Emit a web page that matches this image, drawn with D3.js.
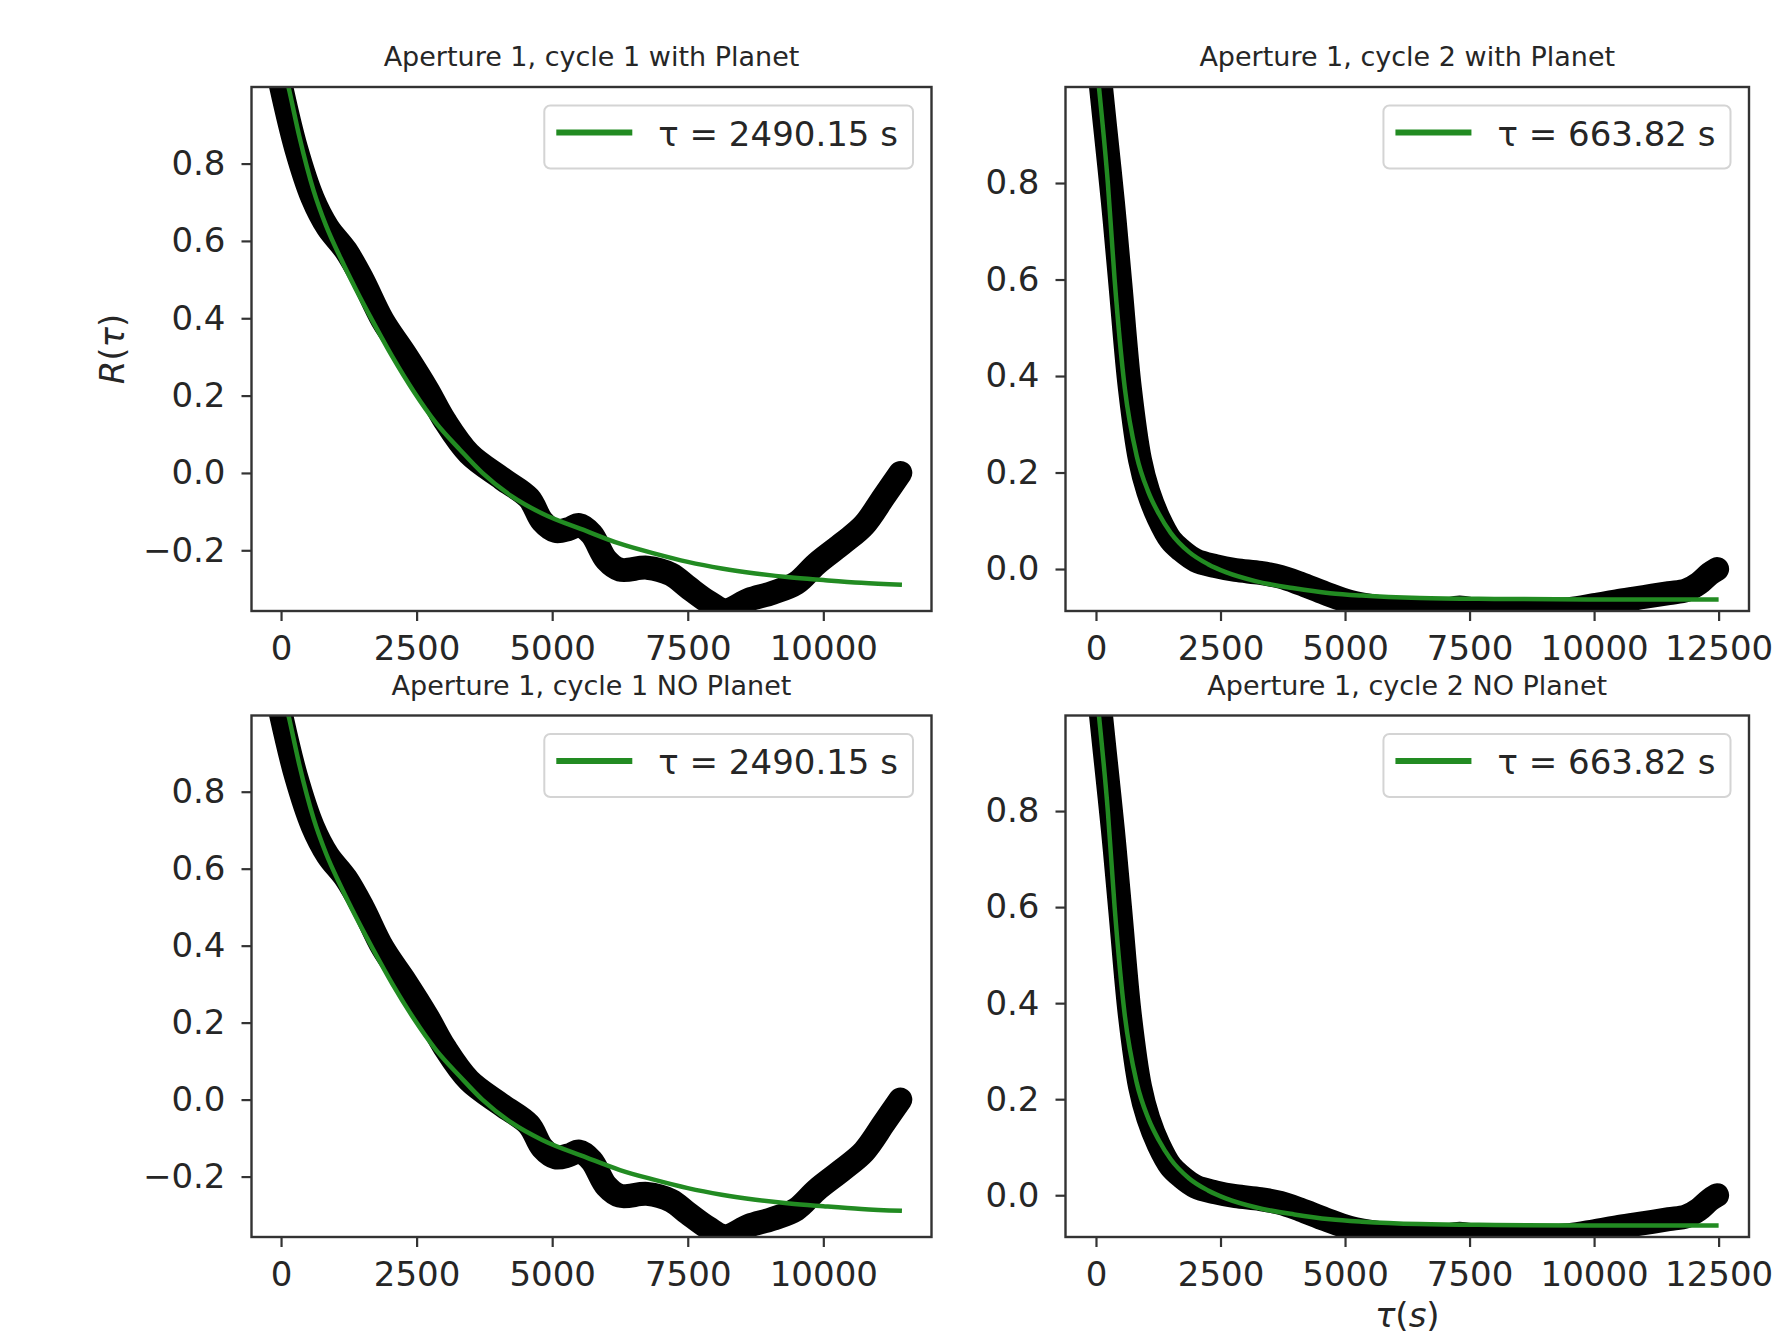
<!DOCTYPE html>
<html>
<head>
<meta charset="utf-8">
<script src="https://cdn.jsdelivr.net/npm/d3@7"></script>
<style>
  html, body { margin: 0; padding: 0; background: #fff; }
  svg { display: block; font-family: 'DejaVu Sans', sans-serif; }
</style>
</head>
<body>
<div id="chart"></div>
<script>
// R(tau) autocorrelation: [lag (s), R]
const cycle1Data = [
  [0, 1.0], [276, 0.84], [583, 0.71], [859, 0.635], [1196, 0.575], [1503, 0.50],
  [1871, 0.395], [2300, 0.305], [2700, 0.215], [3020, 0.135], [3466, 0.05], [4080, -0.015],
  [4571, -0.065], [4816, -0.125], [5061, -0.15], [5300, -0.145], [5500, -0.135], [5725, -0.158],
  [6000, -0.225], [6250, -0.25], [6750, -0.245], [7188, -0.262], [7500, -0.295], [7875, -0.333],
  [8190, -0.355], [8625, -0.328], [9063, -0.31], [9500, -0.285], [9875, -0.235], [10375, -0.18],
  [10750, -0.135], [11125, -0.06], [11420, 0.0]
];
const cycle1Fit = [
  [0, 1.08], [150, 0.99], [337, 0.87], [600, 0.73], [828, 0.64], [1100, 0.555], [1380, 0.475],
  [1700, 0.39], [2055, 0.30], [2450, 0.21], [2853, 0.13], [3300, 0.06], [3712, 0.0], [4250, -0.06],
  [4816, -0.105], [5625, -0.15], [6250, -0.183], [6875, -0.208], [7500, -0.23], [8125, -0.247],
  [8750, -0.26], [9375, -0.27], [10000, -0.277], [10700, -0.284], [11450, -0.289]
];
const cycle2Data = [
  [0, 1.1], [180, 0.92], [340, 0.76], [490, 0.59], [680, 0.375], [884, 0.226], [1050, 0.16],
  [1259, 0.105], [1500, 0.06], [1700, 0.04], [2000, 0.018], [2400, 0.006], [2800, -0.002],
  [3300, -0.008], [3700, -0.016], [4100, -0.03], [4600, -0.05], [5100, -0.068], [5700, -0.079],
  [6300, -0.085], [6900, -0.087], [7300, -0.08], [7700, -0.086], [8300, -0.087], [8900, -0.086],
  [9500, -0.083], [10000, -0.075], [10500, -0.066], [11000, -0.058], [11500, -0.05],
  [11850, -0.044], [12100, -0.03], [12320, -0.01], [12470, 0.0]
];
const cycle2Fit = [
  [0, 1.06], [68, 0.99], [238, 0.80], [374, 0.60], [578, 0.375], [816, 0.235], [1050, 0.16],
  [1259, 0.115], [1500, 0.075], [1871, 0.035], [2250, 0.01], [2619, -0.007], [3200, -0.025],
  [3980, -0.04], [4700, -0.05], [5340, -0.055], [6500, -0.06], [8000, -0.062], [10000, -0.063],
  [12500, -0.063]
];

const panelTitles = [
  'Aperture 1, cycle 1 with Planet', 'Aperture 1, cycle 2 with Planet',
  'Aperture 1, cycle 1 NO Planet', 'Aperture 1, cycle 2 NO Planet'
];
const fitLabels = ['τ = 2490.15 s', 'τ = 663.82 s', 'τ = 2490.15 s', 'τ = 663.82 s'];
const xTicks1 = [0, 2500, 5000, 7500, 10000];
const xTicks2 = [0, 2500, 5000, 7500, 10000, 12500];
const yTicks1 = [-0.2, 0.0, 0.2, 0.4, 0.6, 0.8];
const yTicks2 = [0.0, 0.2, 0.4, 0.6, 0.8];
const xLim1 = [-545, 11995], yLim1 = [-0.357, 0.998];
const xLim2 = [-612, 13110], yLim2 = [-0.087, 0.999];

const W = 1781, H = 1335;
const GREEN = '#228b22';
const INK = '#262626';
const FONT = 34;

const svg = d3.select('#chart').append('svg').attr('width', W).attr('height', H);

// subplot boxes (2x2 grid)
const cols = [{ x0: 251.5, x1: 931.5 }, { x0: 1065.5, x1: 1749 }];
const rows = [{ y0: 87, y1: 611 }, { y0: 715.5, y1: 1237 }];

const cycle1 = { data: cycle1Data, fit: cycle1Fit, xLim: xLim1, yLim: yLim1, xTicks: xTicks1, yTicks: yTicks1 };
const cycle2 = { data: cycle2Data, fit: cycle2Fit, xLim: xLim2, yLim: yLim2, xTicks: xTicks2, yTicks: yTicks2 };
const panels = [
  { row: 0, col: 0, ...cycle1 },
  { row: 0, col: 1, ...cycle2 },
  { row: 1, col: 0, ...cycle1 },
  { row: 1, col: 1, ...cycle2 }
];

panels.forEach((p, i) => {
  const { x0, x1 } = cols[p.col];
  const { y0, y1 } = rows[p.row];
  const x = d3.scaleLinear().domain(p.xLim).range([x0, x1]);
  const y = d3.scaleLinear().domain(p.yLim).range([y1, y0]);
  const g = svg.append('g');

  g.append('clipPath').attr('id', `clip${i}`)
    .append('rect').attr('x', x0).attr('y', y0).attr('width', x1 - x0).attr('height', y1 - y0);
  const plot = g.append('g').attr('clip-path', `url(#clip${i})`);

  // measured R(tau): heavy black trace
  const dataLine = d3.line()
    .x(d => x(d[0])).y(d => y(d[1]))
    .curve(d3.curveCatmullRom.alpha(0.5));
  plot.append('path').datum(p.data)
    .attr('d', dataLine).attr('fill', 'none')
    .attr('stroke', '#000').attr('stroke-width', 24)
    .attr('stroke-linecap', 'round').attr('stroke-linejoin', 'round');

  // exponential fit
  const fitLine = d3.line()
    .x(d => x(d[0])).y(d => y(d[1]))
    .curve(d3.curveMonotoneX);
  plot.append('path').datum(p.fit)
    .attr('d', fitLine).attr('fill', 'none')
    .attr('stroke', GREEN).attr('stroke-width', 4.5);

  // axes
  const xAxis = g.append('g').attr('transform', `translate(0,${y1})`)
    .call(d3.axisBottom(x).tickValues(p.xTicks).tickFormat(d3.format('d')).tickSize(10).tickPadding(15));
  const yAxis = g.append('g').attr('transform', `translate(${x0},0)`)
    .call(d3.axisLeft(y).tickValues(p.yTicks).tickFormat(d3.format('.1f')).tickSize(10).tickPadding(16));
  [xAxis, yAxis].forEach(a => {
    a.attr('font-family', 'DejaVu Sans').attr('font-size', FONT);
    a.select('.domain').remove();
    a.selectAll('.tick line').attr('stroke', '#333').attr('stroke-width', 2.2);
    a.selectAll('.tick text').attr('fill', INK);
  });

  // frame
  g.append('rect')
    .attr('x', x0).attr('y', y0).attr('width', x1 - x0).attr('height', y1 - y0)
    .attr('fill', 'none').attr('stroke', '#333').attr('stroke-width', 2.4);

  // title
  g.append('text')
    .attr('x', (x0 + x1) / 2).attr('y', y0 - 21)
    .attr('text-anchor', 'middle').attr('font-size', 27).attr('fill', INK)
    .text(panelTitles[i]);

  // legend, upper right
  const leg = g.append('g');
  const txt = leg.append('text').attr('font-size', FONT).attr('fill', INK).text(fitLabels[i]);
  const tw = txt.node().getComputedTextLength();
  const bw = 12 + 76 + 26 + tw + 15, bh = 63;
  const bx = x1 - 18.5 - bw, by = y0 + 18.5;
  leg.insert('rect', 'text')
    .attr('x', bx).attr('y', by).attr('width', bw).attr('height', bh).attr('rx', 6)
    .attr('fill', '#fff').attr('fill-opacity', 0.8)
    .attr('stroke', '#d4d4d4').attr('stroke-width', 2);
  leg.append('line')
    .attr('x1', bx + 12).attr('x2', bx + 88).attr('y1', by + 27).attr('y2', by + 27)
    .attr('stroke', GREEN).attr('stroke-width', 6);
  txt.attr('x', bx + 114).attr('y', by + 40);
});

// axis labels (mathtext-style italics)
const yLab = svg.append('text')
  .attr('transform', 'translate(112,349) rotate(-90)')
  .attr('text-anchor', 'middle').attr('dy', '0.35em')
  .attr('font-size', FONT).attr('fill', INK);
yLab.append('tspan').attr('font-style', 'italic').text('R');
yLab.append('tspan').text('(');
yLab.append('tspan').attr('font-style', 'italic').text('τ');
yLab.append('tspan').text(')');

const xLab = svg.append('text')
  .attr('x', (cols[1].x0 + cols[1].x1) / 2).attr('y', 1327)
  .attr('text-anchor', 'middle').attr('font-size', FONT).attr('fill', INK);
xLab.append('tspan').attr('font-style', 'italic').text('τ');
xLab.append('tspan').text('(');
xLab.append('tspan').attr('font-style', 'italic').text('s');
xLab.append('tspan').text(')');
</script>
</body>
</html>
